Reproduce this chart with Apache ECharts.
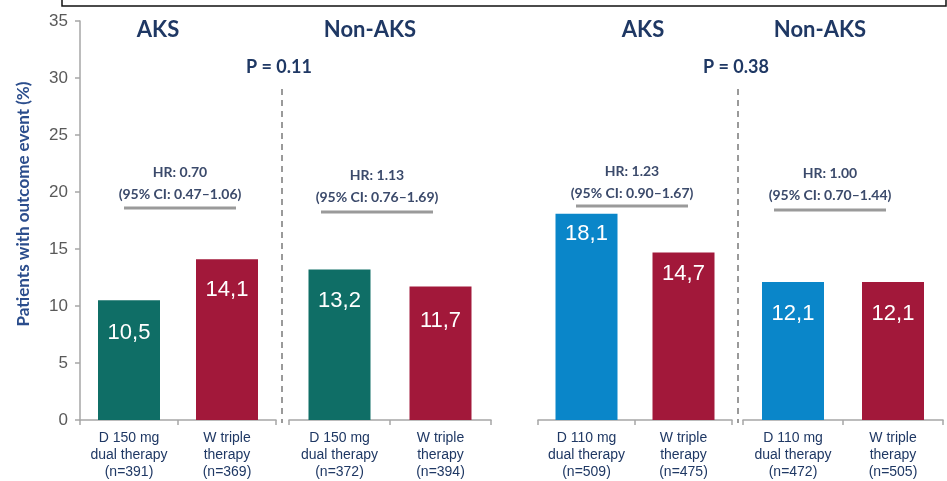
<!DOCTYPE html>
<html>
<head>
<meta charset="utf-8">
<style>
  html, body { margin: 0; padding: 0; background: #ffffff; }
  #chart { width: 947px; height: 481px; }
</style>
<script src="https://cdn.jsdelivr.net/npm/echarts@6/dist/echarts.min.js"></script>
</head>
<body>
<div id="chart"></div>
<script>
// Subgroup panels, left to right
const groupTitles = ['AKS', 'Non-AKS', 'AKS', 'Non-AKS'];

const categories = [
  ['D 150 mg\ndual therapy\n(n=391)', 'W triple\ntherapy\n(n=369)'],
  ['D 150 mg\ndual therapy\n(n=372)', 'W triple\ntherapy\n(n=394)'],
  ['D 110 mg\ndual therapy\n(n=509)', 'W triple\ntherapy\n(n=475)'],
  ['D 110 mg\ndual therapy\n(n=472)', 'W triple\ntherapy\n(n=505)']
];

// Patients with outcome event (%)
const eventRates = [
  [10.5, 14.1],
  [13.2, 11.7],
  [18.1, 14.7],
  [12.1, 12.1]
];

const hrLabels = ['HR: 0.70', 'HR: 1.13', 'HR: 1.23', 'HR: 1.00'];
const ciLabels = ['(95% CI: 0.47\u20131.06)', '(95% CI: 0.76\u20131.69)', '(95% CI: 0.90\u20131.67)', '(95% CI: 0.70\u20131.44)'];
const pLabels = ['P = 0.11', 'P = 0.38'];

const yTicks = [0, 5, 10, 15, 20, 25, 30, 35];

// Styling
const NAVY = '#1f3864';
const AXIS_GREY = '#a6a6a6';
const barColors = [
  ['#0f6e66', '#a2183a'],
  ['#0f6e66', '#a2183a'],
  ['#0a86c9', '#a2183a'],
  ['#0a86c9', '#a2183a']
];
const valueLabelDistance = [[22, 20], [20, 23], [9, 11], [21, 21]];
const gridBoxes = [
  { left: 80, width: 196 },
  { left: 289, width: 202 },
  { left: 538, width: 194 },
  { left: 743, width: 200 }
];
const titleX = [158, 370, 643, 820];
const hrCenterX = [180, 377, 632, 830];
const hrY = [172, 175, 171, 173];
const hrRuleY = [208, 212, 206, 210];
const dividerX = [282, 738];
const pX = [279, 736];

const chart = echarts.init(document.getElementById('chart'));

const grids = gridBoxes.map(b => ({ left: b.left, width: b.width, top: 21, bottom: 58 }));

const xAxes = categories.map((cats, i) => ({
  type: 'category',
  gridIndex: i,
  data: cats,
  axisLine: { lineStyle: { color: AXIS_GREY, width: 1.5 } },
  axisTick: { show: true, length: 5, lineStyle: { color: AXIS_GREY, width: 1.5 } },
  axisLabel: {
    color: NAVY,
    fontFamily: 'Liberation Sans, Arial, sans-serif',
    fontSize: 14,
    lineHeight: 17,
    margin: 10,
    interval: 0
  }
}));

const yAxes = categories.map((_, i) => ({
  type: 'value',
  gridIndex: i,
  min: yTicks[0],
  max: yTicks[yTicks.length - 1],
  interval: 5,
  show: i === 0,
  splitLine: { show: false },
  axisLine: { show: true, lineStyle: { color: AXIS_GREY, width: 1.5 } },
  axisTick: { show: true, length: 5, lineStyle: { color: AXIS_GREY, width: 1.5 } },
  axisLabel: {
    color: '#595959',
    fontFamily: 'Liberation Sans, Arial, sans-serif',
    fontSize: 17,
    margin: 12
  }
}));

const series = eventRates.map((vals, i) => ({
  type: 'bar',
  xAxisIndex: i,
  yAxisIndex: i,
  barWidth: 62,
  data: vals.map((v, j) => ({
    value: v,
    itemStyle: { color: barColors[i][j] },
    label: { distance: valueLabelDistance[i][j] }
  })),
  label: {
    show: true,
    position: 'insideTop',
    color: '#ffffff',
    fontFamily: 'Liberation Sans, Arial, sans-serif',
    fontSize: 22,
    formatter: p => p.value.toFixed(1).replace('.', ',')
  }
}));

const graphics = [];

// Frame edge along the top
graphics.push({
  type: 'rect',
  shape: { x: 62, y: -20, width: 884, height: 26 },
  style: { fill: 'none', stroke: '#111111', lineWidth: 1.5 },
  silent: true
});

// Y axis title
graphics.push({
  type: 'text',
  x: 24, y: 204,
  rotation: Math.PI / 2,
  style: {
    text: 'Patients with outcome event (%)',
    fill: '#2b4d8c',
    font: 'bold 17px Lato, "Open Sans", sans-serif',
    align: 'center',
    verticalAlign: 'middle'
  }
});

// Panel titles
groupTitles.forEach((t, i) => {
  graphics.push({
    type: 'text',
    x: titleX[i], y: 30,
    style: {
      text: t, fill: NAVY,
      font: 'bold 22px Lato, "Open Sans", sans-serif',
      align: 'center', verticalAlign: 'middle'
    }
  });
});

// Hazard ratio annotations with their rules
hrLabels.forEach((t, i) => {
  graphics.push({
    type: 'text',
    x: hrCenterX[i], y: hrY[i],
    style: {
      text: t, fill: '#3b4a6b',
      font: 'bold 14px Lato, "Open Sans", sans-serif',
      align: 'center', verticalAlign: 'middle'
    }
  });
  graphics.push({
    type: 'text',
    x: hrCenterX[i], y: hrY[i] + 22,
    style: {
      text: ciLabels[i], fill: '#3b4a6b',
      font: 'bold 14px Lato, "Open Sans", sans-serif',
      align: 'center', verticalAlign: 'middle'
    }
  });
  graphics.push({
    type: 'line',
    shape: { x1: hrCenterX[i] - 56, y1: hrRuleY[i], x2: hrCenterX[i] + 56, y2: hrRuleY[i] },
    style: { stroke: '#9a9a9a', lineWidth: 3 }
  });
});

// Dashed dividers and P values between subgroups
dividerX.forEach((x, i) => {
  graphics.push({
    type: 'line',
    shape: { x1: x, y1: 89, x2: x, y2: 423 },
    style: { stroke: '#9a9a9a', lineWidth: 2, lineDash: [6, 5] }
  });
  graphics.push({
    type: 'text',
    x: pX[i], y: 67,
    style: {
      text: pLabels[i], fill: NAVY,
      font: 'bold 18px Lato, "Open Sans", sans-serif',
      align: 'center', verticalAlign: 'middle'
    }
  });
});

chart.setOption({
  animation: false,
  backgroundColor: '#ffffff',
  grid: grids,
  xAxis: xAxes,
  yAxis: yAxes,
  series: series,
  graphic: graphics
});
</script>
</body>
</html>
